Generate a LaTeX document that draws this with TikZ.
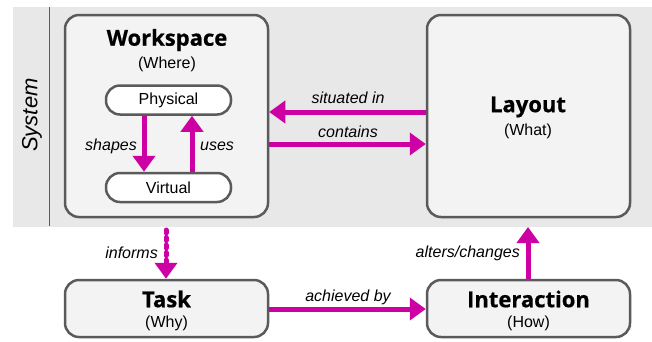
\documentclass[tikz,border=0pt]{standalone}
\usepackage{fontspec}
\setmainfont{Liberation Sans}
\newfontfamily\headfont{Open Sans}[BoldFeatures={FakeBold=0.6}]
\usetikzlibrary{arrows.meta}
\definecolor{mag}{RGB}{204,0,163}
\definecolor{band}{RGB}{232,232,232}
\definecolor{boxfill}{RGB}{243,243,243}
\definecolor{boxline}{RGB}{90,90,90}
\begin{document}
\begin{tikzpicture}[x=1pt,y=-1pt,
  bigbox/.style={draw=boxline,line width=2.5pt,fill=boxfill,rounded corners=14pt,inner sep=0pt},
  pill/.style={draw=boxline,line width=2.5pt,fill=white,rounded corners=14pt,minimum width=125pt,minimum height=29pt,inner sep=0pt,font=\fontsize{16}{19}\selectfont},
  head/.style={font=\headfont\bfseries\fontsize{22}{25}\selectfont,inner sep=0pt},
  sub/.style={font=\fontsize{16}{19}\selectfont,inner sep=0pt},
  lbl/.style={font=\itshape\fontsize{16}{19}\selectfont,inner sep=0pt},
  arr/.style={draw=mag,line width=5pt,-{Triangle[width=22pt,length=16pt]}}
]
\useasboundingbox (0,0) rectangle (652,341);
\fill[band] (13,7) rectangle (652,227);
\draw[boxline,line width=1pt] (49,7) -- (49,226);
\node[lbl,font=\itshape\fontsize{22}{25}\selectfont,rotate=90] (sys) at (32,115) {System};

\node[bigbox,minimum width=203pt,minimum height=202pt] (ws) at (166.5,116) {};
\node[bigbox,minimum width=203pt,minimum height=202pt] (lay) at (528.5,116) {};
\node[bigbox,minimum width=203pt,minimum height=57pt] (task) at (166.5,308.5) {};
\node[bigbox,minimum width=203pt,minimum height=57pt] (inter) at (528.5,308.5) {};

\node[head] (wst) at (167,40) {Workspace};
\node[sub] (wss) at (167,64) {(Where)};
\node[head] (layt) at (528,107) {Layout};
\node[sub] (lays) at (528,131) {(What)};
\node[head] (taskt) at (166.5,299) {Task};
\node[sub] (tasks) at (166.5,323) {(Why)};
\node[head] (intert) at (528.5,299) {Interaction};
\node[sub] (inters) at (528.5,323) {(How)};

\node[pill] (phys) at (168.5,100) {Physical};
\node[pill] (virt) at (168.5,187.5) {Virtual};

\draw[arr] (phys.south -| 144,0) -- (virt.north -| 144,0);
\draw[arr] (virt.north -| 192,0) -- (phys.south -| 192,0);
\node[lbl,anchor=east] (shl) at (137,146) {shapes};
\node[lbl,anchor=west] (usl) at (200,146) {uses};

\draw[arr] (lay.west |- 0,112) -- (ws.east |- 0,112);
\draw[arr] (ws.east |- 0,144) -- (lay.west |- 0,144);
\node[lbl] (sitl) at (348,98) {situated in};
\node[lbl] (conl) at (348,132) {contains};

\coordinate (infstart) at (166,230);
\draw[mag,line width=5pt,line cap=round,dash pattern=on 3pt off 4.5pt] (infstart) -- (166,264);
\draw[mag,line width=5pt,-{Triangle[width=22pt,length=16pt]}] (166,263) -- (task.north -| 166,0);
\node[lbl,anchor=east] (infl) at (158,253) {informs};

\draw[arr] (task.east |- 0,309) -- (inter.west |- 0,309);
\node[lbl] (achl) at (348,297) {achieved by};

\coordinate (altend) at (528,227);
\draw[arr] (inter.north -| 528,0) -- (altend);
\node[lbl,anchor=east] (altl) at (520,253) {alters/changes};
\end{tikzpicture}
\end{document}
